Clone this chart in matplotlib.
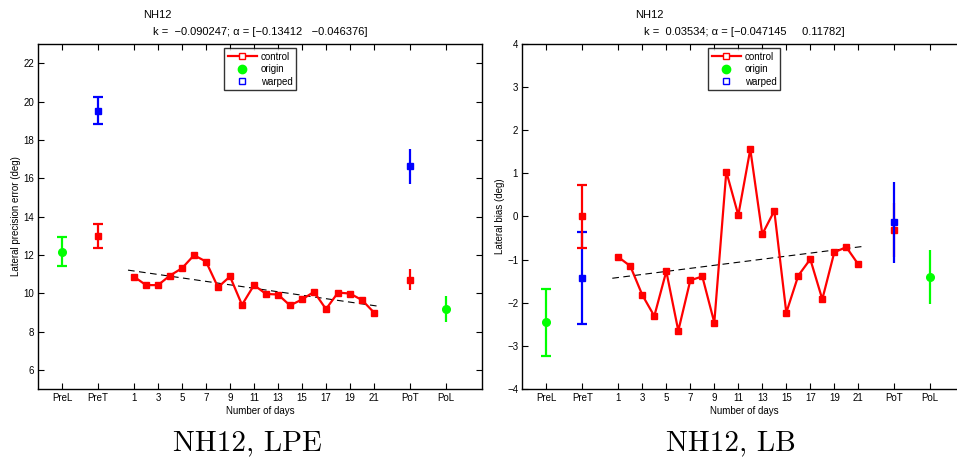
import numpy as np
import matplotlib
matplotlib.use("Agg")
import matplotlib.pyplot as plt
from matplotlib.lines import Line2D

plt.rcParams['font.family'] = ['Liberation Sans', 'DejaVu Sans']

# ---- data -------------------------------------------------------------
days = [1, 2, 3, 4, 5, 6, 7, 8, 9, 10, 11, 12, 13, 14, 15, 16, 17, 18, 19, 20, 21]
tick_pos = [-5, -2, 1, 3, 5, 7, 9, 11, 13, 15, 17, 19, 21, 24, 27]
tick_labels = ['PreL', 'PreT', '1', '3', '5', '7', '9', '11', '13', '15', '17', '19', '21', 'PoT', 'PoL']
phase_pos = {'PreL': -5, 'PreT': -2, 'PoT': 24, 'PoL': 27}

# lateral precision error (deg)
lpe_control = [10.86, 10.42, 10.42, 10.92, 11.30, 11.98, 11.65, 10.31, 10.87, 9.39, 10.42,
               9.96, 9.93, 9.36, 9.67, 10.07, 9.17, 10.03, 9.98, 9.64, 8.99]
lpe_origin = {'PreL': (12.16, 0.75), 'PoL': (9.18, 0.69)}
lpe_ctrl_pp = {'PreT': (13.00, 0.63), 'PoT': (10.71, 0.54)}
lpe_warped = {'PreT': (19.53, 0.68), 'PoT': (16.62, 0.92)}
lpe_k = -0.090247
lpe_alpha = '[\u22120.13412   \u22120.046376]'

# lateral bias (deg)
lb_control = [-0.94, -1.15, -1.82, -2.31, -1.27, -2.65, -1.48, -1.39, -2.46, 1.04, 0.03,
              1.56, -0.41, 0.13, -2.23, -1.37, -0.99, -1.92, -0.83, -0.71, -1.11]
lb_origin = {'PreL': (-2.45, 0.78), 'PoL': (-1.40, 0.63)}
lb_ctrl_pp = {'PreT': (0.00, 0.73), 'PoT': (-0.31, 0.62)}
lb_warped = {'PreT': (-1.43, 1.07), 'PoT': (-0.13, 0.94)}
lb_k = 0.03534
lb_alpha = '[\u22120.047145     0.11782]'

RED, GREEN, BLUE = (1, 0, 0), (0, 1, 0), (0, 0, 1)

fig = plt.figure(figsize=(9.57, 4.61), dpi=100)
W, H = 957.0, 461.0


def fmt_k(k):
    return ('%.5g' % k).replace('-', '\u2212')


def panel(left_px, ctrl, origin, ctrl_pp, warped, k, alpha, ylim, yticks, ylabel,
          title_x, caption, caption_x):
    ax = fig.add_axes([left_px / W, (H - 389) / H, 444 / W, 345 / H])
    ax.set_xlim(-7, 30)
    ax.set_ylim(*ylim)

    # daily control series
    ax.plot(days, ctrl, '-s', color=RED, lw=1.6, ms=5, mfc=RED, mec=RED, zorder=4)

    # linear trend with the stated slope
    xm = np.mean(days)
    ym = np.mean(ctrl)
    xs = np.array([0.5, 21.5])
    ax.plot(xs, ym + k * (xs - xm), '--', color='black', lw=0.8, dashes=(6, 4), zorder=3)

    def ebar(ph, val, color, marker, z):
        m, e = val
        cap = 3.5 if ph.startswith('Pre') else 0
        ax.errorbar([phase_pos[ph]], [m], yerr=[e], fmt=marker, color=color,
                    ms=5.5 if marker == 'o' else 5, mfc=color, mec=color,
                    elinewidth=1.6, capsize=cap, capthick=1.6, zorder=z)

    for ph, v in origin.items():
        ebar(ph, v, GREEN, 'o', 5)
    for ph, v in ctrl_pp.items():
        ebar(ph, v, RED, 's', 6 if ph == 'PreT' else 5)
    for ph, v in warped.items():
        ebar(ph, v, BLUE, 's', 5 if ph == 'PreT' else 6)

    ax.set_xticks(tick_pos)
    ax.set_xticklabels(tick_labels)
    ax.set_yticks(yticks)
    ax.set_yticklabels([('%g' % t).replace('-', '\u2212') for t in yticks])
    ax.tick_params(direction='in', top=True, right=True, length=4, width=0.8,
                   labelsize=7, pad=3, colors='black')
    for sp in ax.spines.values():
        sp.set_linewidth(1.0)
    ax.set_xlabel('Number of days', fontsize=7, labelpad=2)
    ax.set_ylabel(ylabel, fontsize=7, labelpad=1.5)

    handles = [
        Line2D([], [], color=RED, lw=1.6, marker='s', ms=5, mfc='white', mec=RED),
        Line2D([], [], color=GREEN, lw=0, marker='o', ms=6, mfc=GREEN, mec=GREEN),
        Line2D([], [], color=BLUE, lw=0, marker='s', ms=5, mfc='white', mec=BLUE),
    ]
    leg = ax.legend(handles, ['control', 'origin', 'warped'], loc='upper center',
                    bbox_to_anchor=(0.5, 0.987), fontsize=7, frameon=True, fancybox=False,
                    handlelength=3.0, handletextpad=0.4, labelspacing=0.25,
                    borderpad=0.35, borderaxespad=0)
    leg.get_frame().set_edgecolor('black')
    leg.get_frame().set_linewidth(1.0)

    ax.text(0.5, 1.0 + 7 / 345, 'k =  %s; \u03b1 = %s' % (fmt_k(k), alpha),
            transform=ax.transAxes, ha='center', va='bottom', fontsize=8)
    ax.text(title_x, 1.0 + 24 / 345, 'NH12', transform=ax.transAxes,
            ha='left', va='bottom', fontsize=8)

    fig.text(caption_x / W, 1 - 443 / H, caption, family='cmr10', fontsize=21,
             ha='center', va='center')
    return ax


panel(38, lpe_control, lpe_origin, lpe_ctrl_pp, lpe_warped, lpe_k, lpe_alpha,
      (5, 23), [6, 8, 10, 12, 14, 16, 18, 20, 22], 'Lateral precision error (deg)',
      0.236, 'NH12, LPE', 247)
panel(522.3, lb_control, lb_origin, lb_ctrl_pp, lb_warped, lb_k, lb_alpha,
      (-4, 4), [-4, -3, -2, -1, 0, 1, 2, 3, 4], 'Lateral bias (deg)',
      0.254, 'NH12, LB', 731)

fig.savefig('out.png', dpi=100)
